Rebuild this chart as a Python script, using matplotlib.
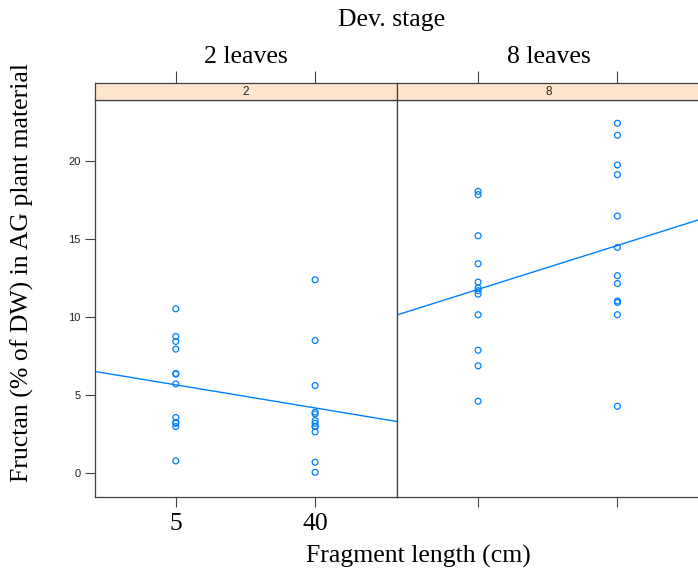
#!/usr/bin/env python3

import numpy as np
import matplotlib.pyplot as plt

# fragment length levels (plotted as categories 1, 2)
lengths = ['5', '40']
stages = ['2', '8']
stage_titles = ['2 leaves', '8 leaves']

# fructan (% of DW) per stage and fragment length
leaves2_len5 = [10.53, 8.76, 8.44, 7.95, 6.39, 6.35, 5.72, 3.57, 3.25, 3.2, 2.99, 0.79]
leaves2_len40 = [12.39, 8.5, 5.62, 3.91, 3.8, 3.37, 3.2, 3.0, 2.99, 2.65, 0.71, 0.06]
leaves8_len5 = [18.05, 17.84, 15.21, 13.42, 12.24, 11.86, 11.69, 11.47, 10.15, 7.88, 6.88, 4.61]
leaves8_len40 = [22.41, 21.64, 19.74, 19.12, 16.47, 14.46, 12.65, 12.15, 11.03, 10.94, 10.15, 4.29]

yticks = [0, 5, 10, 15, 20]

BLUE = '#0080ff'
FRAME = '#404040'
W, H = 698, 571


def px_box(x0, y0, x1, y1):
    # pixel box (top-left origin) -> figure fraction rect
    return [x0 / W, 1 - y1 / H, (x1 - x0) / W, (y1 - y0) / H]


def main():
    fig = plt.figure(figsize=(W / 100, H / 100), dpi=100)
    serif = 'Liberation Serif'
    sans = 'Liberation Sans'
    big = 18.5

    groups = [(leaves2_len5, leaves2_len40), (leaves8_len5, leaves8_len40)]
    lefts = [95, 397.3]
    pw = 302.3

    for i, (g5, g40) in enumerate(groups):
        x0 = lefts[i]
        ax = fig.add_axes(px_box(x0, 100, x0 + pw, 496.7))
        xs = np.concatenate([np.full(len(g5), 1.0), np.full(len(g40), 2.0)])
        ys = np.concatenate([g5, g40])
        ax.scatter(xs, ys, s=18, facecolors='none', edgecolors=BLUE,
                   linewidths=0.9, zorder=3)
        slope, icpt = np.polyfit(xs, ys, 1)
        xl = np.array([0.4, 2.6])
        ax.plot(xl, icpt + slope * xl, color=BLUE, lw=1)
        ax.set_xlim(0.42, 2.59)
        ax.set_ylim(-1.5, 23.9)
        ax.set_xticks([1, 2])
        ax.set_yticks(yticks)
        ax.tick_params(direction='out', length=7, width=0.8, color=FRAME)
        if i == 0:
            ax.set_xticklabels(lengths, fontsize=big, family=serif)
            ax.set_yticklabels([str(t) for t in yticks], fontsize=8,
                               family=sans, color='#222222')
            ax.tick_params(axis='x', pad=5)
        else:
            ax.set_xticklabels([])
            ax.tick_params(axis='y', left=False, labelleft=False)
        for sp in ax.spines.values():
            sp.set_color(FRAME)
            sp.set_linewidth(0.9)

        # strip with the stage code
        st = fig.add_axes(px_box(x0, 83, x0 + pw, 100))
        st.set_facecolor('#ffe5cc')
        st.set_xlim(0.42, 2.59)
        st.set_ylim(0, 1)
        st.set_xticks([1, 2])
        st.set_xticklabels([])
        st.set_yticks([])
        st.tick_params(axis='x', bottom=False, top=True, direction='out',
                       length=9, width=0.8, color=FRAME)
        for sp in st.spines.values():
            sp.set_color(FRAME)
            sp.set_linewidth(0.9)
        st.text(0.5, 0.45, stages[i], transform=st.transAxes, ha='center',
                va='center', fontsize=8.5, family=sans, color='#222222')

        fig.text((x0 + pw / 2) / W, 1 - 57 / H, stage_titles[i], ha='center',
                 va='center', fontsize=big, family=serif)

    fig.text(392 / W, 1 - 20 / H, 'Dev. stage', ha='center', va='center',
             fontsize=big, family=serif)
    fig.text(418 / W, 1 - 556 / H, 'Fragment length (cm)', ha='center',
             va='center', fontsize=big, family=serif)
    fig.text(22 / W, 1 - 273 / H, 'Fructan (% of DW) in AG plant material',
             ha='center', va='center', rotation=90, fontsize=big, family=serif)

    fig.savefig('out.png', dpi=100)


if __name__ == '__main__':
    main()
